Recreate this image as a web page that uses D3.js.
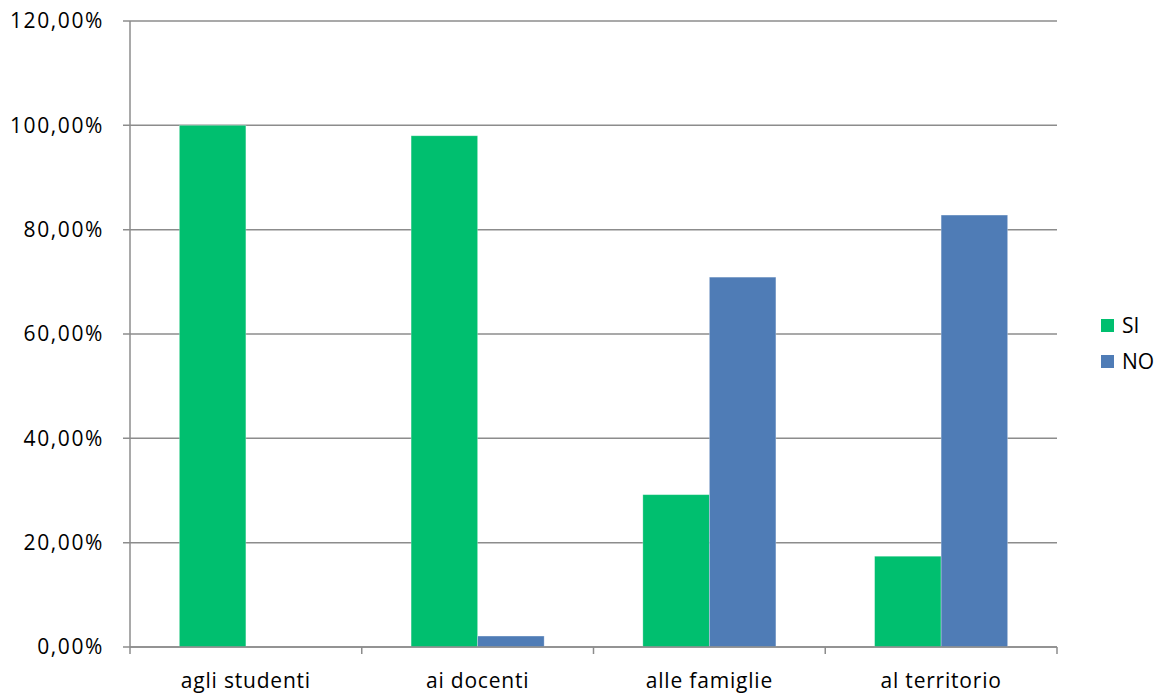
<!DOCTYPE html>
<html><head><meta charset="utf-8">
<script src="https://cdn.jsdelivr.net/npm/d3@7"></script>
<style>body{margin:0;background:#fff}svg{display:block;font-family:"Open Sans",Lato,sans-serif}</style>
</head><body><svg id="c" width="1161" height="696"></svg>
<script>
const categories = ["agli studenti","ai docenti","alle famiglie","al territorio"];
const seriesNames = ["SI","NO"];
const siValues = [100, 98, 29.2, 17.4];
const noValues = [0, 2.1, 70.9, 82.8];
const yTicks = [0,20,40,60,80,100,120];
const colors = ["#00BF6F","#4F7CB6"];

const svg = d3.select("#c");
const L=130, R=1057, T=21, B=647;
const x = d3.scaleBand().domain(categories).range([L,R]).paddingInner(0).paddingOuter(0);
const xs = d3.scaleBand().domain(seriesNames).range([0,x.bandwidth()]).paddingInner(0).paddingOuter(0.742);
const y = d3.scaleLinear().domain([0,120]).range([B,T]);
const fmt = v => v.toFixed(2).replace(".",",")+"%";

// gridlines
svg.append("g").selectAll("line").data(yTicks).join("line")
  .attr("x1",L-7).attr("x2",R).attr("y1",d=>y(d)).attr("y2",d=>y(d))
  .attr("stroke","#8c8c8c").attr("stroke-width",1.5);
// y axis
svg.append("line").attr("x1",L).attr("x2",L).attr("y1",T).attr("y2",B).attr("stroke","#8c8c8c").attr("stroke-width",1.5);
svg.append("g").selectAll("text").data(yTicks).join("text")
  .attr("x",104).attr("y",d=>y(d)).attr("dy","0.35em").attr("text-anchor","end")
  .attr("font-size",21).attr("letter-spacing","1.6px").attr("fill","#000").text(fmt);

const data = categories.map((c,i)=>({c, vals:[siValues[i],noValues[i]]}));
const g = svg.append("g");
data.forEach(d=>{
  d.vals.forEach((v,j)=>{
    if(v<=0) return;
    g.append("rect").attr("x",x(d.c)+xs(seriesNames[j])).attr("width",xs.bandwidth())
      .attr("y",y(v)).attr("height",B-y(v)).attr("fill",colors[j])
      .attr("stroke","rgba(255,255,255,0.35)").attr("stroke-width",0.8);
  });
});

// x axis
const xAxis = d3.axisBottom(x).tickSize(0).tickFormat(d=>d);
const ax = svg.append("g").attr("transform",`translate(0,${B})`).call(xAxis);
ax.select(".domain").remove();
ax.selectAll("text").attr("font-size",21).attr("letter-spacing","0.8px").attr("font-family","'Open Sans',Lato,sans-serif").attr("fill","#000").attr("y",41).attr("dy",0);
svg.append("line").attr("x1",L).attr("x2",R).attr("y1",B).attr("y2",B).attr("stroke","#8c8c8c").attr("stroke-width",1.5);
const bounds = categories.map(c=>x(c)).concat([R]);
svg.append("g").selectAll("line").data(bounds).join("line")
  .attr("x1",d=>d).attr("x2",d=>d).attr("y1",B).attr("y2",B+7).attr("stroke","#8c8c8c").attr("stroke-width",1.5);

// legend
const lg = svg.append("g");
seriesNames.forEach((s,i)=>{
  const yy = 326 + i*36;
  lg.append("rect").attr("x",1101).attr("y",yy-7).attr("width",13).attr("height",13).attr("fill",colors[i]);
  lg.append("text").attr("x",1122).attr("y",yy).attr("dy","0.35em").attr("font-size",21).attr("fill","#000").text(s);
});
</script></body></html>
